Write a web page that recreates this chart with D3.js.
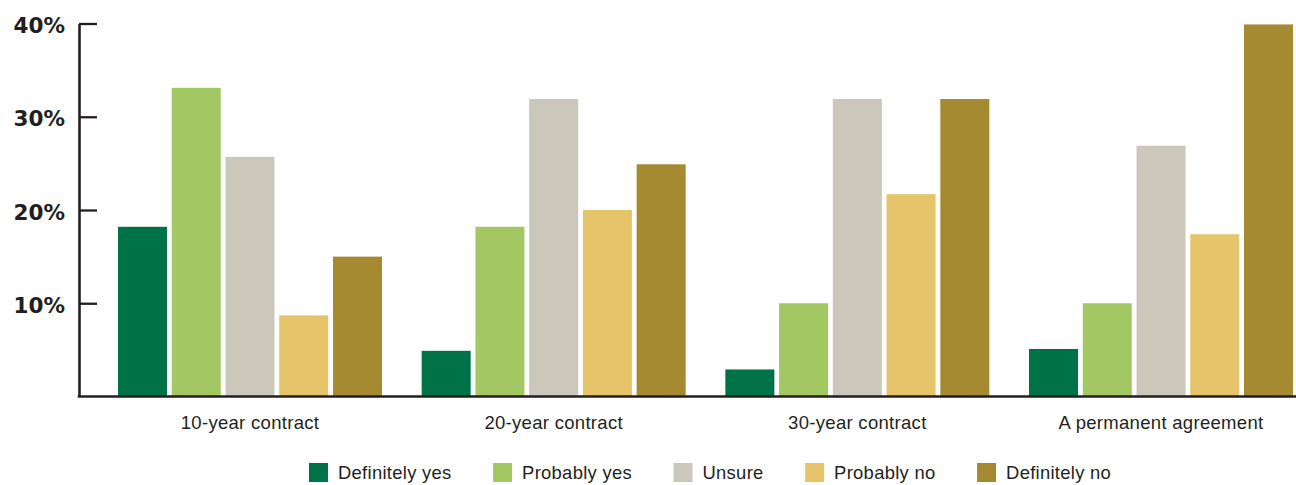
<!DOCTYPE html>
<html>
<head>
<meta charset="utf-8">
<script src="https://cdn.jsdelivr.net/npm/d3@7"></script>
<style>
  html, body { margin: 0; padding: 0; background: #fff; }
  svg { display: block; }
</style>
</head>
<body>
<svg id="chart" width="1296" height="485"></svg>
<script>
// Survey responses by agreement length (% of respondents)
const categories = ["10-year contract", "20-year contract", "30-year contract", "A permanent agreement"];
const seriesNames = ["Definitely yes", "Probably yes", "Unsure", "Probably no", "Definitely no"];
const definitelyYes = [18.2, 4.9, 2.9, 5.1];
const probablyYes   = [33.1, 18.2, 10.0, 10.0];
const unsure        = [25.7, 31.9, 31.9, 26.9];
const probablyNo    = [8.7, 20.0, 21.7, 17.4];
const definitelyNo  = [15.0, 24.9, 31.9, 39.9];
const yTicks = [10, 20, 30, 40];
const colors = ["#007249", "#a3c763", "#cbc7bb", "#e5c46a", "#a58a32"];

const seriesValues = [definitelyYes, probablyYes, unsure, probablyNo, definitelyNo];
const rows = categories.map((c, i) => ({
  category: c,
  values: seriesNames.map((s, j) => ({ series: s, value: seriesValues[j][i] }))
}));

const svg = d3.select("#chart");
const axisColor = "#231f20";
const axisX = 79;
const baseY = 396.5;

const x0 = d3.scaleBand().domain(categories).range([118, 1293]).paddingInner(0.1307).paddingOuter(0);
const x1 = d3.scaleBand().domain(seriesNames).range([0, x0.bandwidth()]).paddingInner(0.088).paddingOuter(0);
const y = d3.scaleLinear().domain([0, 40]).range([baseY, 23.5]);
const color = d3.scaleOrdinal().domain(seriesNames).range(colors);

// bars
const groups = svg.append("g").selectAll("g")
  .data(rows).join("g")
  .attr("transform", d => `translate(${x0(d.category)},0)`);
groups.selectAll("rect")
  .data(d => d.values).join("rect")
  .attr("x", d => x1(d.series))
  .attr("y", d => y(d.value))
  .attr("width", x1.bandwidth())
  .attr("height", d => baseY - y(d.value))
  .attr("fill", d => color(d.series));

// y axis
const yAxis = d3.axisLeft(y).tickValues(yTicks).tickSize(-18).tickSizeOuter(0).tickPadding(14)
  .tickFormat(d => d + "%");
const gy = svg.append("g").attr("transform", `translate(${axisX},0)`).call(yAxis);
gy.select(".domain").attr("stroke", axisColor).attr("stroke-width", 2.6);
gy.selectAll(".tick line").attr("stroke", axisColor).attr("stroke-width", 2.3);
gy.selectAll(".tick text")
  .attr("fill", axisColor)
  .attr("font-family", "'DejaVu Sans', sans-serif")
  .attr("font-weight", "bold")
  .attr("font-size", 21.5)
  .attr("dy", "0.42em");

// x axis baseline
const xAxis = d3.axisBottom(x0).tickSize(0).tickPadding(19);
const gx = svg.append("g").attr("transform", `translate(0,${baseY})`).call(xAxis);
gx.select(".domain").remove();
gx.append("line")
  .attr("x1", axisX - 1.3).attr("x2", 1296)
  .attr("stroke", axisColor).attr("stroke-width", 2.4);
gx.selectAll(".tick text")
  .attr("fill", "#231f20")
  .attr("font-family", "'Liberation Sans', Arial, sans-serif")
  .attr("font-size", 18.5)
  .attr("letter-spacing", 0.3);

// legend
const legend = svg.append("g").attr("transform", "translate(309,463)");
let lx = 0;
seriesNames.forEach(s => {
  const item = legend.append("g").attr("transform", `translate(${lx},0)`);
  item.append("rect").attr("width", 19).attr("height", 19).attr("fill", color(s));
  const t = item.append("text")
    .attr("x", 29).attr("y", 16)
    .attr("fill", "#231f20")
    .attr("font-family", "'Liberation Sans', Arial, sans-serif")
    .attr("font-size", 18.4)
    .attr("letter-spacing", 0.3)
    .text(s);
  lx += 29 + t.node().getComputedTextLength() + 41.5;
});
</script>
</body>
</html>
